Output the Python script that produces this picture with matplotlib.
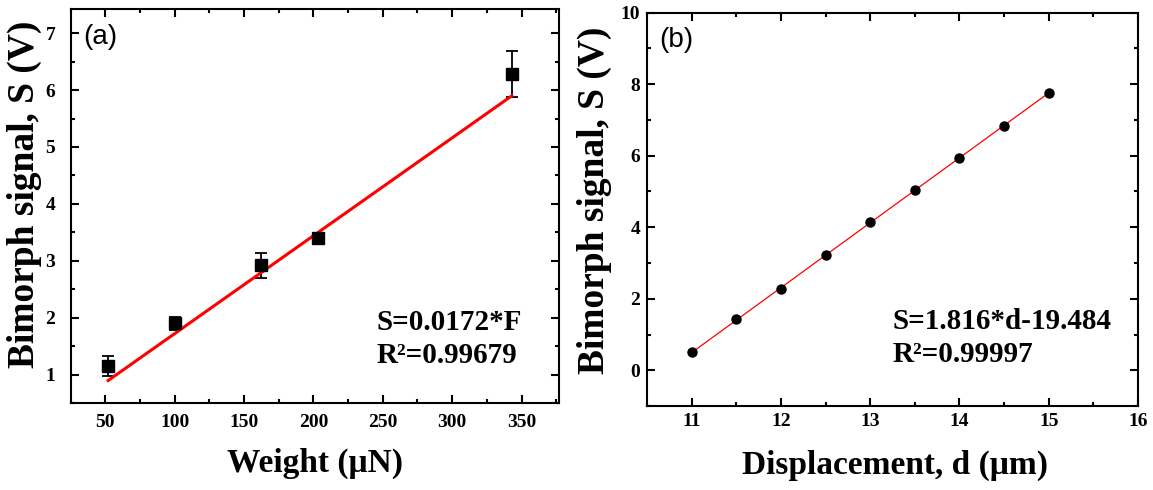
import matplotlib.pyplot as plt
from matplotlib.ticker import MultipleLocator

plt.rcParams['font.family'] = 'Liberation Serif'
plt.rcParams['font.weight'] = 'bold'

# panel (a): signal vs weight
weight = [52, 100, 162, 203, 343]
signal_a = [1.15, 1.90, 2.92, 3.40, 6.28]
err_a = [0.18, 0.12, 0.22, 0.06, 0.40]
slope_a = 0.0172

# panel (b): signal vs displacement
disp = [11.0, 11.5, 12.0, 12.5, 13.0, 13.5, 14.0, 14.5, 15.0]
signal_b = [0.52, 1.42, 2.28, 3.21, 4.16, 5.03, 5.93, 6.84, 7.76]
err_b = [0.05, 0.05, 0.05, 0.05, 0.05, 0.05, 0.05, 0.05, 0.05]
slope_b = 1.816
icept_b = -19.484


def style_axis(ax, xpad, ypad):
    for sp in ax.spines.values():
        sp.set_linewidth(1.5)
    ax.tick_params(which='both', direction='in', top=True, right=True,
                   labelsize=14, width=1.5)
    ax.tick_params(which='major', length=6)
    ax.tick_params(which='minor', length=3)
    ax.tick_params(axis='x', pad=xpad)
    ax.tick_params(axis='y', pad=ypad)
    for lab in ax.get_xticklabels() + ax.get_yticklabels():
        lab.set_fontweight('bold')


fig = plt.figure(figsize=(11.53, 4.9), dpi=100)
ax1 = fig.add_axes([0.0613, 0.1776, 0.4235, 0.8034])
ax2 = fig.add_axes([0.5611, 0.1714, 0.4259, 0.8027])

# left plot
ax1.errorbar(weight, signal_a, yerr=err_a, fmt='s', color='black',
             markersize=9, capsize=4, elinewidth=1.3, capthick=1.3)
ax1.plot([weight[0], weight[-1]],
         [slope_a * weight[0], slope_a * weight[-1]],
         color='red', linewidth=2.2)
ax1.set_xlim(25, 377)
ax1.set_ylim(0.5, 7.42)
ax1.xaxis.set_major_locator(MultipleLocator(50))
ax1.xaxis.set_minor_locator(MultipleLocator(25))
ax1.yaxis.set_major_locator(MultipleLocator(1))
ax1.yaxis.set_minor_locator(MultipleLocator(0.5))
style_axis(ax1, 8, 11)
ax1.set_xlabel('Weight (\u03bcN)', fontsize=24, fontweight='bold')
ax1.set_ylabel('Bimorph signal, S (V)', fontsize=27, fontweight='bold')
ax1.xaxis.set_label_coords(0.5, -0.115)
ax1.yaxis.set_label_coords(-0.058, 0.53)
ax1.text(0.025, 0.93, '(a)', transform=ax1.transAxes, fontsize=20,
         family='Liberation Sans', fontweight='normal', va='center')
ax1.text(0.627, 0.205, 'S=0.0172*F', transform=ax1.transAxes,
         fontsize=21, fontweight='bold', va='center')
ax1.text(0.627, 0.12, 'R\u00b2=0.99679', transform=ax1.transAxes,
         fontsize=21, fontweight='bold', va='center')

# right plot
ax2.errorbar(disp, signal_b, yerr=err_b, fmt='o', color='black',
             markersize=6.5, capsize=2.5, elinewidth=1.2, capthick=1.2)
ax2.plot([disp[0], disp[-1]],
         [slope_b * disp[0] + icept_b, slope_b * disp[-1] + icept_b],
         color='red', linewidth=0.9, zorder=1)
ax2.set_xlim(10.5, 16)
ax2.set_ylim(-1, 10)
ax2.xaxis.set_major_locator(MultipleLocator(1))
ax2.xaxis.set_minor_locator(MultipleLocator(0.5))
ax2.yaxis.set_major_locator(MultipleLocator(2))
ax2.yaxis.set_minor_locator(MultipleLocator(1))
style_axis(ax2, 5, 5)
ax2.set_xlabel('Displacement, d (\u03bcm)', fontsize=24, fontweight='bold')
ax2.set_ylabel('Bimorph signal, S (V)', fontsize=27, fontweight='bold')
ax2.xaxis.set_label_coords(0.505, -0.11)
ax2.yaxis.set_label_coords(-0.071, 0.524)
ax2.text(0.025, 0.93, '(b)', transform=ax2.transAxes, fontsize=20,
         family='Liberation Sans', fontweight='normal', va='center')
ax2.text(0.5, 0.215, 'S=1.816*d-19.484', transform=ax2.transAxes,
         fontsize=21, fontweight='bold', va='center')
ax2.text(0.5, 0.13, 'R\u00b2=0.99997', transform=ax2.transAxes,
         fontsize=21, fontweight='bold', va='center')

fig.savefig('out.png', dpi=100)
